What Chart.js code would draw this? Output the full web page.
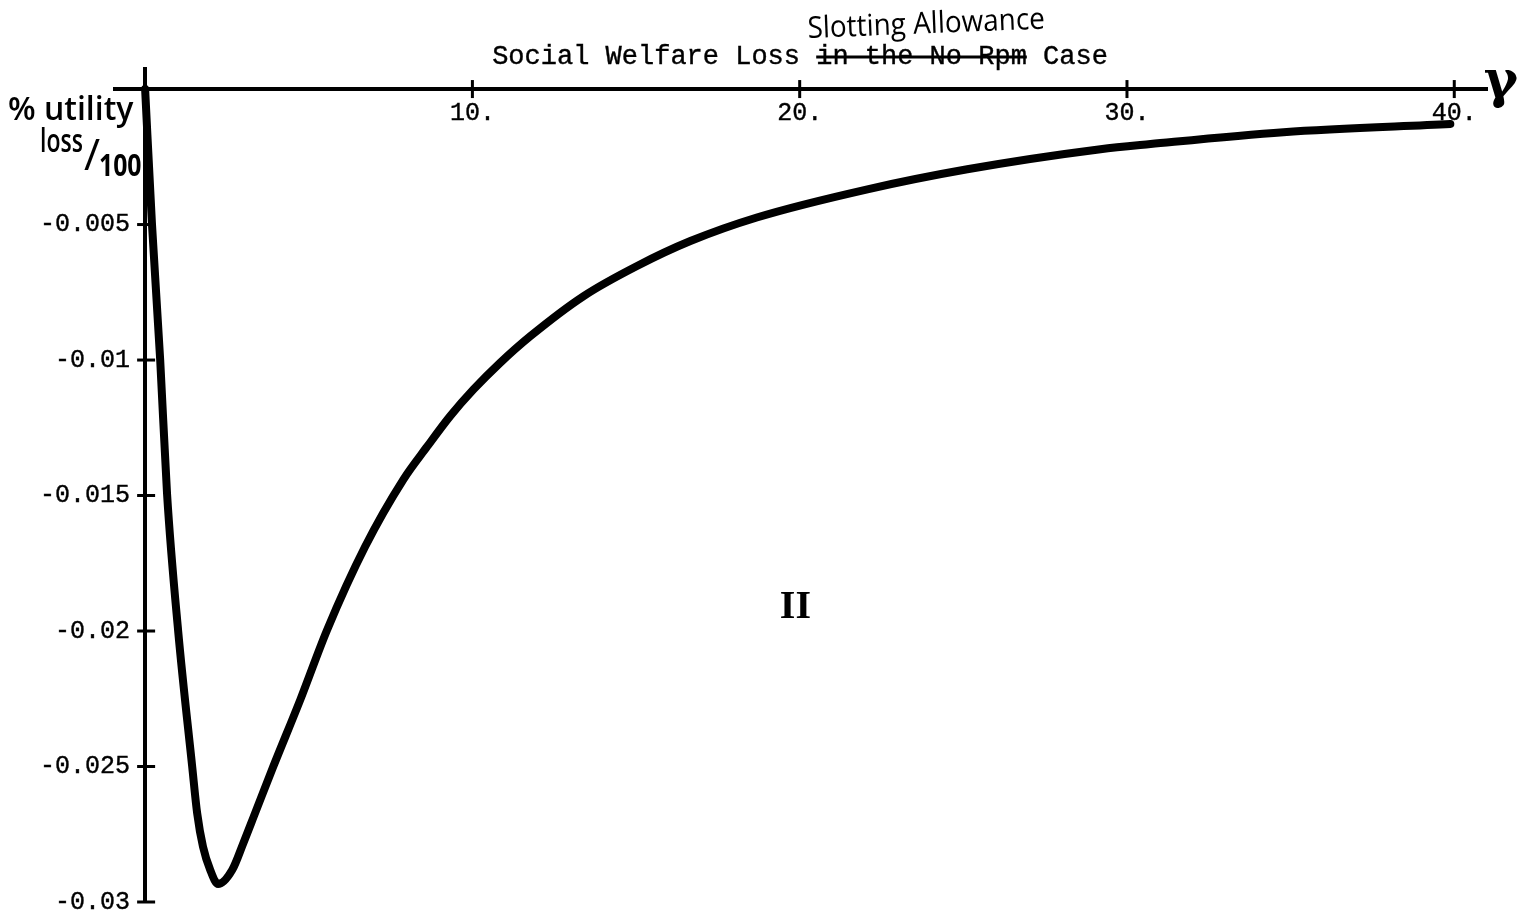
<!DOCTYPE html>
<html lang="en">
<head>
    <meta charset="UTF-8">
    <title>Social Welfare Loss</title>
    <script src="https://cdn.jsdelivr.net/npm/chart.js"></script>
    <style>
        body {
            margin: 0;
            padding: 0;
            background-color: #fff;
        }
        .chart-container {
            width: 1537px;
            height: 917px;
            position: relative;
        }
    </style>
</head>
<body>
    <div class="chart-container">
        <canvas id="lossChart"></canvas>
    </div>
    <script>
        // gamma (x) and % utility loss / 100 (y)
        const gammaValues = [0, 0.21, 0.46, 0.67, 1.01, 1.44, 1.59, 1.77, 1.99, 2.23, 2.66, 3.00, 3.36, 3.91, 4.74, 5.56, 6.72, 7.89, 8.62, 9.32, 10.03, 10.85, 11.77, 13.40, 15.03, 16.66, 18.69, 22.07, 25.12, 29.19, 30.72, 34.78, 39.88];
        const lossValues = [0, -0.00499, -0.00998, -0.01493, -0.0200, -0.02502, -0.02672, -0.02797, -0.02882, -0.02934, -0.02882, -0.02783, -0.02672, -0.02502, -0.02254, -0.01996, -0.01689, -0.01441, -0.01319, -0.01207, -0.01109, -0.0101, -0.00912, -0.00764, -0.00653, -0.00561, -0.00474, -0.0037, -0.00296, -0.00222, -0.00203, -0.00159, -0.00129];

        const xTicks = [10, 20, 30, 40];
        const xTickLabels = ['10.', '20.', '30.', '40.'];
        const yTicks = [-0.005, -0.01, -0.015, -0.02, -0.025, -0.03];
        const yTickLabels = ['-0.005', '-0.01', '-0.015', '-0.02', '-0.025', '-0.03'];

        const points = gammaValues.map((g, i) => ({ x: g, y: lossValues[i] }));
        const tickFont = { family: '"Liberation Mono", "DejaVu Sans Mono", monospace', size: 25 };

        // tick marks crossing the axes + the hand-written notes
        const decorations = {
            id: 'decorations',
            afterDraw(chart) {
                const ctx = chart.ctx;
                const xs = chart.scales.x;
                const ys = chart.scales.y;
                const x0 = xs.getPixelForValue(0);
                const y0 = ys.getPixelForValue(0);
                ctx.save();
                ctx.strokeStyle = '#000';
                ctx.lineWidth = 3;
                xTicks.forEach(v => {
                    const px = xs.getPixelForValue(v);
                    ctx.beginPath();
                    ctx.moveTo(px, y0 - 9);
                    ctx.lineTo(px, y0 + 9);
                    ctx.stroke();
                });
                yTicks.forEach(v => {
                    const py = ys.getPixelForValue(v);
                    ctx.beginPath();
                    ctx.moveTo(x0 - 8, py);
                    ctx.lineTo(x0 + 10, py);
                    ctx.stroke();
                });

                // title with the struck-out words
                ctx.fillStyle = '#000';
                ctx.font = '27px "Liberation Mono", monospace';
                ctx.textBaseline = 'alphabetic';
                ctx.textAlign = 'left';
                ctx.lineWidth = 0.4;
                const partA = 'Social Welfare Loss ';
                const partB = 'in the No Rpm';
                const partC = ' Case';
                const wA = ctx.measureText(partA).width;
                const wB = ctx.measureText(partB).width;
                const wC = ctx.measureText(partC).width;
                const tx = 800 - (wA + wB + wC) / 2;
                const ty = 64;
                [[partA, tx], [partB, tx + wA], [partC, tx + wA + wB]].forEach(([t, x]) => {
                    ctx.fillText(t, x, ty);
                    ctx.strokeText(t, x, ty);
                });
                ctx.lineWidth = 3;
                ctx.beginPath();
                ctx.moveTo(tx + wA, ty - 7);
                ctx.lineTo(tx + wA + wB, ty - 7);
                ctx.stroke();

                // hand-written replacement
                ctx.save();
                ctx.translate(808, 38);
                ctx.rotate(-0.04);
                ctx.scale(0.93, 1);
                ctx.font = '30px "Open Sans", sans-serif';
                ctx.fillText('Slotting Allowance', 0, 0);
                ctx.restore();

                // y label
                ctx.font = '600 32px "Open Sans", sans-serif';
                ctx.fillText('% utility', 8, 120);
                ctx.save();
                ctx.translate(40, 152);
                ctx.scale(0.72, 1);
                ctx.font = '600 32px "Open Sans", sans-serif';
                ctx.fillText('loss', 0, 0);
                ctx.restore();
                ctx.font = '44px "Open Sans", sans-serif';
                ctx.fillText('/', 84, 170);
                ctx.save();
                ctx.translate(99, 176);
                ctx.scale(0.8, 1);
                ctx.font = 'bold 31px "Open Sans", sans-serif';
                ctx.fillText('100', 0, 0);
                ctx.restore();

                // x label
                ctx.font = 'bold 52px "DejaVu Serif", serif';
                ctx.textAlign = 'center';
                ctx.fillText('\u03B3', 1501, 97);

                // region label
                ctx.font = 'bold 40px "Liberation Serif", serif';
                ctx.fillText('II', xs.getPixelForValue(19.87), ys.getPixelForValue(-0.01906) + 12);
                ctx.restore();
            }
        };

        new Chart(document.getElementById('lossChart'), {
            type: 'line',
            data: {
                datasets: [{
                    data: points,
                    borderColor: '#000',
                    borderWidth: 8,
                    borderCapStyle: 'round',
                    borderJoinStyle: 'round',
                    pointRadius: 0,
                    fill: false,
                    cubicInterpolationMode: 'monotone'
                }]
            },
            options: {
                responsive: true,
                maintainAspectRatio: false,
                animation: false,
                layout: { padding: { left: 115, right: 50, top: 69, bottom: 15 } },
                plugins: {
                    legend: { display: false },
                    title: { display: false },
                    tooltip: { enabled: false }
                },
                scales: {
                    x: {
                        type: 'linear',
                        position: { y: 0 },
                        min: -0.92,
                        max: 41,
                        afterBuildTicks: s => { s.ticks = xTicks.map(v => ({ value: v })); },
                        grid: { display: false, drawTicks: false },
                        border: { display: true, color: '#000', width: 4 },
                        ticks: {
                            color: '#000',
                            font: tickFont,
                            padding: 9,
                            maxRotation: 0,
                            textStrokeColor: '#000',
                            textStrokeWidth: 0.4,
                            callback: v => xTickLabels[xTicks.indexOf(v)]
                        }
                    },
                    y: {
                        type: 'linear',
                        position: { x: 0 },
                        min: -0.03,
                        max: 0.00074,
                        afterBuildTicks: s => { s.ticks = yTicks.map(v => ({ value: v })); },
                        grid: { display: false, drawTicks: false },
                        border: { display: true, color: '#000', width: 4 },
                        ticks: {
                            color: '#000',
                            font: tickFont,
                            padding: 0,
                            textStrokeColor: '#000',
                            textStrokeWidth: 0.4,
                            // trailing space keeps the label clear of the axis
                            callback: v => yTickLabels[yTicks.indexOf(v)] + ' '
                        }
                    }
                }
            },
            plugins: [decorations]
        });
    </script>
</body>
</html>
